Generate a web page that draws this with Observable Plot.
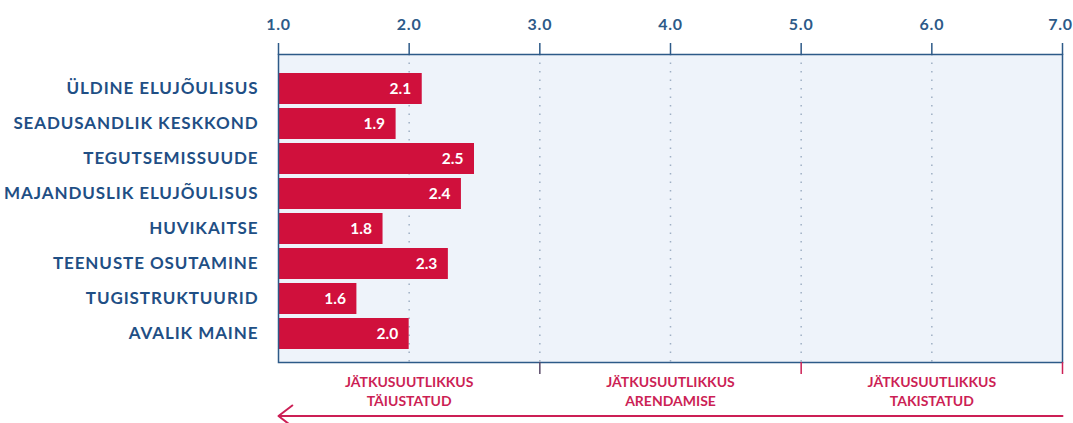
<!DOCTYPE html>
<html>
<head>
<meta charset="utf-8">
<script src="https://cdn.jsdelivr.net/npm/d3@7"></script>
<script src="https://cdn.jsdelivr.net/npm/@observablehq/plot@0.6"></script>
<style>
  html, body { margin: 0; padding: 0; background: #ffffff; }
  #chart svg { display: block; }
  g[aria-label="y-axis tick label"] text { letter-spacing: 0.9px; }
  g[aria-label="x-axis tick label"] text { letter-spacing: 0.8px; }
  g[aria-label="value-labels"] text { letter-spacing: 0.8px; }
  g[aria-label="zone-labels"] text { letter-spacing: 0.7px; }
</style>
</head>
<body>
<div id="chart"></div>
<script>
const categories = [
  "ÜLDINE ELUJÕULISUS",
  "SEADUSANDLIK KESKKOND",
  "TEGUTSEMISSUUDE",
  "MAJANDUSLIK ELUJÕULISUS",
  "HUVIKAITSE",
  "TEENUSTE OSUTAMINE",
  "TUGISTRUKTUURID",
  "AVALIK MAINE"
];
const values = [2.1, 1.9, 2.5, 2.4, 1.8, 2.3, 1.6, 2.0];
const xTicks = [1, 2, 3, 4, 5, 6];
const lastTick = [7];
const gridTicks = [2, 3, 4, 5, 6];
const zoneCenters = [2, 4, 6];
const zoneLabels = ["JÄTKUSUUTLIKKUS\nTÄIUSTATUD", "JÄTKUSUUTLIKKUS\nARENDAMISE", "JÄTKUSUUTLIKKUS\nTAKISTATUD"];

const data = categories.map((name, i) => ({name, value: values[i]}));
const zones = zoneCenters.map((x, i) => ({x, label: zoneLabels[i]}));

const blue = "#1f4f85";
const red = "#d0103c";
const pink = "#cc1f55";
const axisBlue = "#2d5a88";
const font = "Lato, 'Open Sans', sans-serif";

const topAxis = (ticks, extra = {}) => Plot.axisX({anchor: "top", ticks, tickFormat: d => d.toFixed(1), tickSize: 12, tickPadding: 13,
  fontSize: 16, fontWeight: "bold", color: axisBlue, strokeWidth: 1.5, ...extra});

const chart = Plot.plot({
  width: 1073,
  height: 423,
  marginLeft: 278,
  marginRight: 11,
  marginTop: 54,
  marginBottom: 61,
  style: {fontFamily: font, background: "#ffffff"},
  x: {domain: [1, 7]},
  y: {domain: categories, range: [72, 350], paddingInner: 0.12, paddingOuter: 0},
  marks: [
    Plot.frame({fill: "#eef3fa", stroke: null}),
    Plot.gridX(gridTicks, {stroke: "#9fb0c4", strokeOpacity: 1, strokeDasharray: "1.5,7", strokeWidth: 1.5}),
    Plot.barX(data, {x1: () => 1, x2: "value", y: "name", fill: red}),
    Plot.frame({stroke: axisBlue, strokeWidth: 1.5}),
    Plot.text(data, {x: "value", y: "name", text: d => d.value.toFixed(1), textAnchor: "end", dx: -11,
      fill: "#ffffff", fontSize: 15.5, fontWeight: "bold", ariaLabel: "value-labels"}),
    topAxis(xTicks),
    topAxis(lastTick, {tickFormat: () => ""}),
    topAxis(lastTick, {tickSize: 0, tickPadding: 25, dx: -2}),
    Plot.axisX({anchor: "bottom", ticks: [3], tickFormat: () => "", tickSize: 12, stroke: "#5a4a68", strokeWidth: 1.5}),
    Plot.axisX({anchor: "bottom", ticks: [5, 7], tickFormat: () => "", tickSize: 12, stroke: pink, strokeWidth: 1.5}),
    Plot.axisY({anchor: "left", tickSize: 0, tickPadding: 20, fontSize: 17, fontWeight: "bold", color: blue}),
    Plot.text(zones, {x: "x", text: "label", frameAnchor: "bottom", lineAnchor: "top", dy: 12, lineHeight: 1.3,
      fill: pink, fontSize: 14, fontWeight: "bold", ariaLabel: "zone-labels"}),
    Plot.arrow([{x1: 7, x2: 1, y: categories[categories.length - 1]}], {x1: "x1", x2: "x2", y1: "y", y2: "y", dy: 82,
      stroke: pink, strokeWidth: 2, headLength: 13, headAngle: 75})
  ]
});
document.getElementById("chart").appendChild(chart);
</script>
</body>
</html>
